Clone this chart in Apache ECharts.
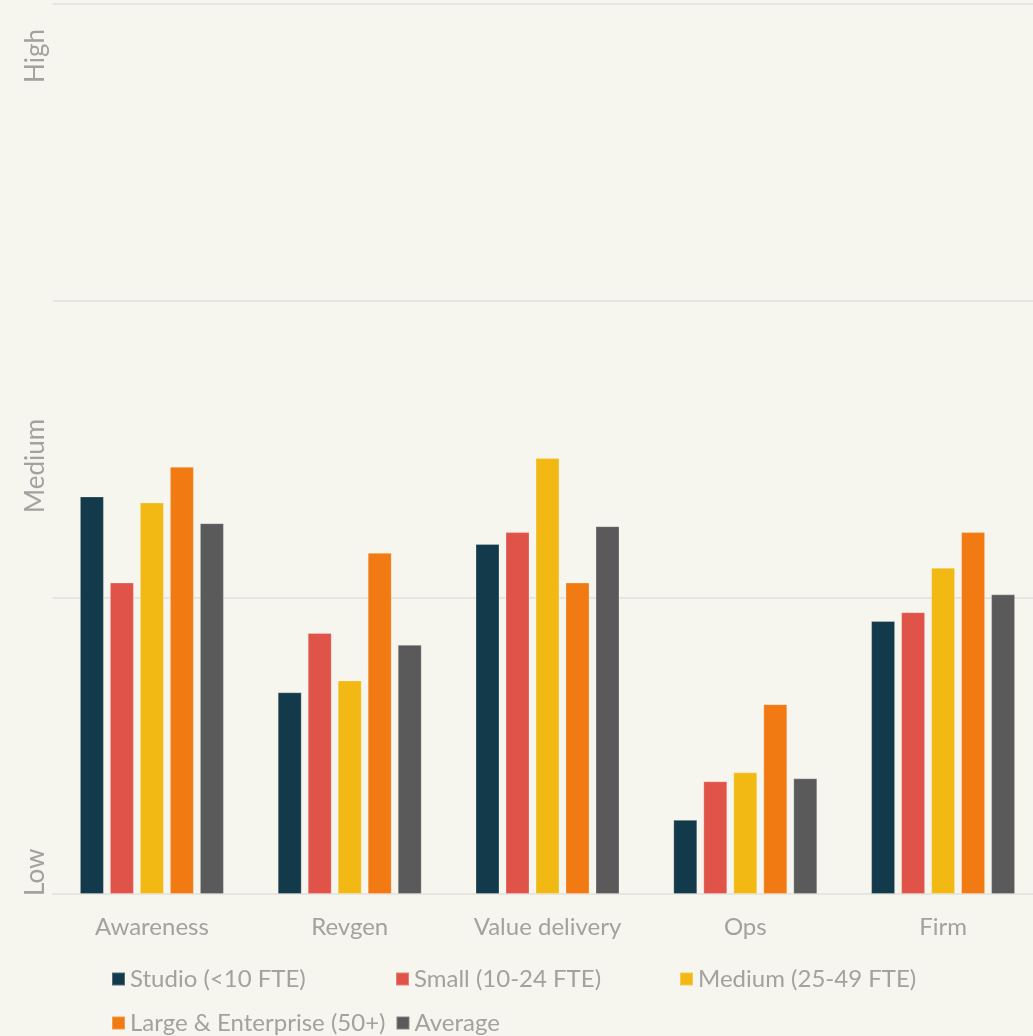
<!DOCTYPE html>
<html><head><meta charset="utf-8">
<script src="https://cdn.jsdelivr.net/npm/echarts@6/dist/echarts.min.js"></script>
<style>html,body{margin:0;padding:0;background:#f6f5ee;overflow:hidden;width:1033px;height:1036px;}#c{width:1042px;height:1036px;}</style>
</head><body><div id="c"></div>
<script>
const categories = ['Awareness', 'Revgen', 'Value delivery', 'Ops', 'Firm'];
const seriesNames = ['Studio (<10 FTE)', 'Small (10-24 FTE)', 'Medium (25-49 FTE)', 'Large & Enterprise (50+)', 'Average'];
const studio  = [1.34, 0.68, 1.18, 0.25, 0.92];
const small   = [1.05, 0.88, 1.22, 0.38, 0.95];
const medium  = [1.32, 0.72, 1.47, 0.41, 1.10];
const large   = [1.44, 1.15, 1.05, 0.64, 1.22];
const average = [1.25, 0.84, 1.24, 0.39, 1.01];
const yLabels = ['Low', 'Medium', 'High'];
const colors = ['#133a4b', '#e05349', '#f2b914', '#f27a13', '#5a5a5a'];
const values = [studio, small, medium, large, average];

const chart = echarts.init(document.getElementById('c'));
const txt = '#a2a29f';
chart.setOption({
  backgroundColor: '#f6f5ee',
  animation: false,
  textStyle: { fontFamily: 'Lato' },
  grid: { left: 53, right: 0, top: 4, bottom: 142, containLabel: false },
  xAxis: {
    type: 'category', data: categories,
    axisLine: { lineStyle: { color: '#e6e5df', width: 2 } },
    axisTick: { show: false },
    axisLabel: { color: txt, fontSize: 24, margin: 21, fontFamily: 'Lato' }
  },
  yAxis: {
    type: 'value', min: 0, max: 3, interval: 1,
    axisLabel: { show: false },
    axisLine: { show: false }, axisTick: { show: false },
    splitLine: { lineStyle: { color: '#e6e5df', width: 2 } }
  },
  legend: {
    left: 111, top: 962, width: 870, padding: 0,
    itemWidth: 13, itemHeight: 13, itemGap: 10,
    icon: 'rect',
    textStyle: { color: txt, fontSize: 24, width: 255, lineHeight: 34, fontFamily: 'Lato' },
    data: seriesNames
  },
  graphic: [
    { type: 'text', x: 23, y: 896, rotation: Math.PI/2, style: { text: yLabels[0], fill: txt, font: '26px Lato' } },
    { type: 'text', x: 23, y: 513, rotation: Math.PI/2, style: { text: yLabels[1], fill: txt, font: '26px Lato' } },
    { type: 'text', x: 23, y: 83, rotation: Math.PI/2, style: { text: yLabels[2], fill: txt, font: '26px Lato' } }
  ],
  series: seriesNames.map((n, i) => ({
    name: n, type: 'bar', data: values[i],
    barWidth: 24, barGap: '25%',
    itemStyle: { color: colors[i], borderColor: 'rgba(255,255,255,0.25)', borderWidth: 1 }
  }))
});
</script></body></html>
